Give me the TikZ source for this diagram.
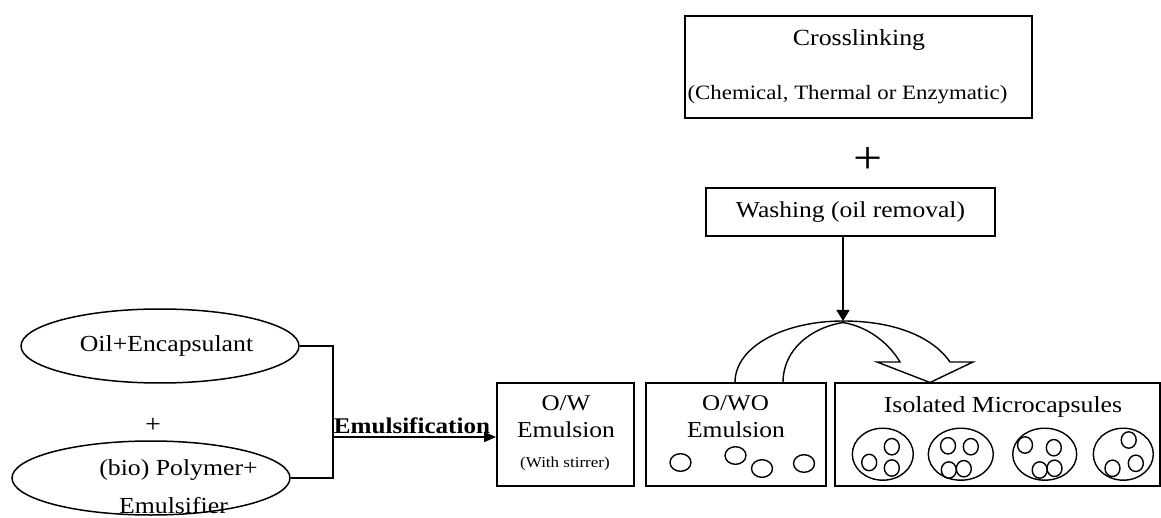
\documentclass[tikz,border=0pt]{standalone}
\usepackage{fontspec}
\setmainfont{Liberation Serif}[FakeStretch=1.12]
\usetikzlibrary{shapes.geometric,arrows.meta}

\begin{document}
\begin{tikzpicture}[x=1pt,y=-1pt,
  procbox/.style={draw, line width=1.8pt, inner sep=0pt},
  blob/.style={draw, ellipse, line width=1.5pt, inner sep=0pt,
               minimum width=278pt, minimum height=74pt},
  lbl/.style={inner sep=0pt, anchor=base},
  fs/.style={font=\fontsize{#1}{#1}\selectfont},
  link/.style={line width=1.5pt},
  drop/.style={line width=1.4pt},
  bendarrow/.style={line width=1.4pt}]

\fill[white] (0,0) rectangle (1161,518);
\useasboundingbox (0,0) rectangle (1161,518);

% --- process boxes ---
\node[procbox, minimum width=347pt, minimum height=102pt] (cross) at (858.5,67) {};
\node[procbox, minimum width=289pt, minimum height=48pt]  (wash)  at (850.5,212) {};
\node[procbox, minimum width=137pt, minimum height=103pt] (ow)    at (565.5,434.5) {};
\node[procbox, minimum width=180pt, minimum height=103pt] (owo)   at (736,434.5) {};
\node[procbox, minimum width=325pt, minimum height=103pt] (iso)   at (997.5,434.5) {};

% --- starting materials ---
\node[blob] (oil)  at (160,346) {};
\node[blob] (poly) at (151,478) {};

% --- labels ---
\node[lbl, fs=23.1] (tcross) at (859,46)    {Crosslinking};
\node[lbl, fs=20.4] (tchem)  at (847.5,99.5) {(Chemical, Thermal or Enzymatic)};
\node[inner sep=0pt, fs=46] (bigplus) at (868,161) {+};
\node[lbl, fs=22.8] (twash)  at (850.5,218) {Washing (oil removal)};

\node[lbl, fs=23] (toil)   at (166.5,352) {Oil+Encapsulant};
\node[inner sep=0pt, fs=25] (smallplus) at (153,425) {+};
\node[lbl, fs=23] (tpoly)  at (178.5,475) {(bio) Polymer+};
\node[lbl, fs=23] (temul)  at (173.5,513) {Emulsifier};

\node[lbl, font=\bfseries\fontsize{22.4}{22.4}\selectfont] (tproc) at (412,433) {Emulsification};

\node[lbl, fs=22.4] (tow1)  at (566,410) {O/W};
\node[lbl, fs=22.8] (tow2)  at (566,437) {Emulsion};
\node[lbl, fs=15.2] (tow3)  at (565,467) {(With stirrer)};
\node[lbl, fs=22.4] (towo1) at (735.5,410) {O/WO};
\node[lbl, fs=22.8] (towo2) at (736,437) {Emulsion};
\node[lbl, fs=23] (tiso)  at (1003,412) {Isolated Microcapsules};

% --- connectors ---
\coordinate (jm) at (333,437);
\draw[link] (oil.east) -| (jm) |- (poly.east);
\draw[link, -{Triangle[length=12pt,width=10pt]}] (jm) -- (jm -| ow.west);

\coordinate (apex) at (843,321);
\draw[link, -{Triangle[length=11pt,width=13pt]}] (apex |- wash.south) -- (apex);

% --- curved transfer arrow from O/WO emulsion to the microcapsules ---
\draw[bendarrow, line join=miter]
  (735,382.5) .. controls (735,346) and (785,321) .. (apex)
  .. controls (900,321) and (935,340) .. (950,362)
  -- (973,362) -- (930,382.5) -- (877,362) -- (900,362)
  .. controls (890,345) and (870,327) .. (843,322.5)
  .. controls (810,328) and (783,350) .. (783,382.5);

% --- oil droplets in the O/WO emulsion ---
\foreach \cx/\cy in {680.5/462.5, 735.5/455.5, 762/468.5, 804/463.5}
  \draw[drop] (\cx,\cy) ellipse [x radius=10.5, y radius=8.8];

% --- microcapsules with their oil cores ---
\foreach \cx/\rx in {882.8/30.5, 960.8/32.5, 1044.7/32, 1123.3/30}
  \draw[drop] (\cx,454.2) ellipse [x radius=\rx, y radius=26];
\foreach \cx/\cy in {869.2/462.5, 891.8/446.7, 891.8/468,
                     948/445.8, 970.8/446.7, 948.8/470, 963.8/468.7,
                     1025/445, 1053.8/447.7, 1039.7/470, 1054.5/468.3,
                     1128.7/440, 1112.5/468.3, 1135.8/463.3}
  \draw[drop] (\cx,\cy) ellipse [x radius=7.5, y radius=8.2];

\end{tikzpicture}
\end{document}
